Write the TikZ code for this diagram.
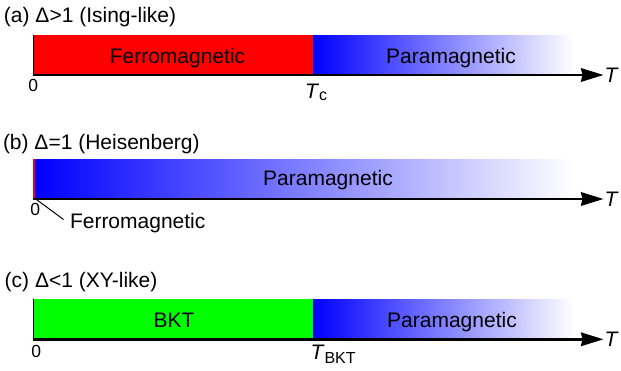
\documentclass[tikz,border=0pt]{standalone}
\usepackage{fontspec}
\setmainfont{Liberation Sans}
\usetikzlibrary{arrows.meta}
\newcommand{\bigtxt}{\fontsize{21}{25}\selectfont}
\newcommand{\midtxt}{\fontsize{17.5}{21}\selectfont}
\newcommand{\subtxt}{\fontsize{16}{19}\selectfont}
\begin{document}
\begin{tikzpicture}[x=1pt,y=-1pt,
  every node/.style={inner sep=0pt, outer sep=0pt},
  txt/.style={font=\bigtxt},
  ticklabel/.style={font=\midtxt},
  axis/.style={line width=2.6pt, -{Stealth[length=22.5pt,width=13.5pt,inset=1.5pt]}},
  leftedge/.style={line width=1pt},
  phase/.style={anchor=north west, minimum height=40pt},
  ferro/.style={phase, fill=red},
  bkt/.style={phase, fill=green},
  para/.style={phase, left color=blue, right color=white},
  pointer/.style={line width=1pt},
]
\useasboundingbox (0,0) rectangle (621,370);

% ---------- (a) Ising-like ----------
\node[txt, anchor=base west] (labA) at (4,22.7) {(a) Δ>1 (Ising-like)};
\node[ferro, minimum width=280pt] (ferroA) at (33,35) {};
\node[para, minimum width=260pt] (paraA) at (313,35) {};
\draw[leftedge] (ferroA.north west) -- (ferroA.south west);
\coordinate (startA) at (33,75);
\coordinate (endA) at (603.5,75);
\draw[axis] (startA) -- (endA);
\node[txt, anchor=base] (ferroAtxt) at (177.5,63.3) {Ferromagnetic};
\node[txt, anchor=base] (paraAtxt) at (451,63.3) {Paramagnetic};
\node[ticklabel] (zeroA) at (33.3,85.5) {0};
\node[txt, anchor=base west] (tc) at (305,98.3)
  {\textit{T}\raisebox{-1.7pt}{\subtxt c}};
\node[txt, anchor=base west] (axA) at (604.5,82.3) {\textit{T}};

% ---------- (b) Heisenberg ----------
\node[txt, anchor=base west] (labB) at (3,149.5) {(b) Δ=1 (Heisenberg)};
\node[phase, fill=red, minimum width=2.8pt] (ferroB) at (33,159) {};
\node[para, minimum width=537.5pt] (paraB) at (35.5,159) {};
\coordinate (startB) at (33,199);
\coordinate (endB) at (603.5,199);
\draw[axis] (startB) -- (endB);
\node[txt, anchor=base] (paraBtxt) at (328,185.7) {Paramagnetic};
\node[ticklabel] (zeroB) at (35.3,209) {0};
\node[txt, anchor=base west] (ferroBtxt) at (70,228) {Ferromagnetic};
\coordinate (tipB) at (36.5,199.5);
\coordinate (footB) at (63.5,219.5);
\draw[pointer] (tipB) -- (footB);
\node[txt, anchor=base west] (axB) at (604.5,206.3) {\textit{T}};

% ---------- (c) XY-like ----------
\node[txt, anchor=base west] (labC) at (4.7,287.3) {(c) Δ<1 (XY-like)};
\node[bkt, minimum width=280pt] (bktC) at (33,299) {};
\node[para, minimum width=260pt] (paraC) at (313,299) {};
\draw[leftedge] (bktC.north west) -- (bktC.south west);
\coordinate (startC) at (33,339.3);
\coordinate (endC) at (603.5,339.3);
\draw[axis] (startC) -- (endC);
\node[txt, anchor=base] (bktCtxt) at (174,327.3) {BKT};
\node[txt, anchor=base] (paraCtxt) at (452,327.3) {Paramagnetic};
\node[ticklabel] (zeroC) at (36.3,351) {0};
\node[txt, anchor=base west] (tbkt) at (310.5,359.3)
  {\textit{T}\raisebox{-4pt}{\subtxt BKT}};
\node[txt, anchor=base west] (axC) at (604.5,346.6) {\textit{T}};
\end{tikzpicture}
\end{document}
